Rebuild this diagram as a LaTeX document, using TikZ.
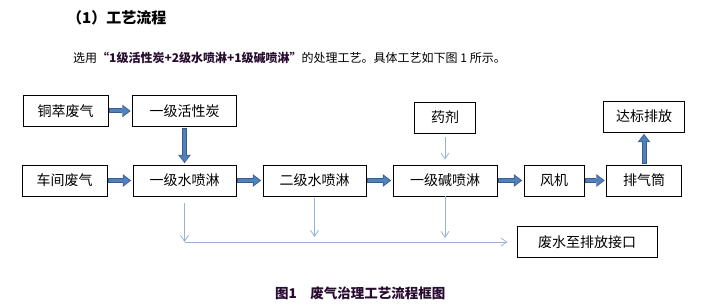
\documentclass[tikz,border=0pt]{standalone}
\usepackage{fontspec}
\setmainfont{Noto Sans CJK SC}
\usepackage{xcolor}
\definecolor{fatfill}{RGB}{79,129,189}
\definecolor{fatedge}{RGB}{56,93,138}
\definecolor{drainblue}{RGB}{149,179,215}
\definecolor{inkdark}{RGB}{40,12,48}
\usetikzlibrary{arrows.meta,calc}

\begin{document}
\begin{tikzpicture}[
        x=1pt, y=-1pt,
        box/.style={draw, line width=0.8pt, minimum height=31pt, inner sep=0pt, font=\fontsize{14}{14}\selectfont},
        fat/.style={draw=fatfill, line width=3pt, shorten <=2pt, shorten >=3pt, -{Triangle[length=6pt,width=9.6pt,line width=0pt]},
            preaction={draw=fatedge, line width=5pt, shorten <=1pt, shorten >=1.5pt, -{Triangle[length=8.2pt,width=12.6pt,line width=0pt]}}},
        drain/.style={draw=drainblue, line width=0.8pt, -{Straight Barb[length=6pt,width=8pt]}},
        head/.style={anchor=west, inner sep=0pt}
    ]
        \useasboundingbox (0,0) rectangle (709,307);

        \node[head, font=\fontsize{15}{15}\selectfont\bfseries] (title) at (67,18) {（1）工艺流程};
        \node[head, font=\fontsize{12}{12}\selectfont] (intro) at (73,58) {选用{\color{inkdark}\bfseries“1级活性炭+2级水喷淋+1级碱喷淋”}的处理工艺。具体工艺如下图 1 所示。};

        \node[box, minimum width=85pt] (copper) at (65.5,111) {铜萃废气};
        \node[box, minimum width=104pt] (carbon) at (184.5,111) {一级活性炭};
        \node[box, minimum width=85pt] (shop) at (64.5,180.5) {车间废气};
        \node[box, minimum width=103pt] (spray1) at (184.5,180.5) {一级水喷淋};
        \node[box, minimum width=103pt] (spray2) at (314.5,180.5) {二级水喷淋};
        \node[box, minimum width=61pt] (agent) at (445,117.5) {药剂};
        \node[box, minimum width=104pt] (alkali) at (445,180.5) {一级碱喷淋};
        \node[box, minimum width=60pt] (fan) at (554,180.5) {风机};
        \node[box, minimum width=75pt] (stack) at (644,180.5) {排气筒};
        \node[box, minimum width=81pt] (emit) at (644,116.5) {达标排放};
        \node[box, minimum width=140pt] (waste) at (587,242) {废水至排放接口};

        \coordinate (d1) at (spray1 |- waste);

        \draw[fat] (copper) -- (carbon);
        \draw[fat] (carbon) -- (spray1);
        \draw[fat] (shop) -- (spray1);
        \draw[fat] (spray1) -- (spray2);
        \draw[fat] (spray2) -- (alkali);
        \draw[fat] (alkali) -- (fan);
        \draw[fat] (fan) -- (stack);
        \draw[fat] (stack) -- (emit);
        \draw[drain, shorten <=4pt, shorten >=5pt] (agent) -- (alkali);
        \draw[drain, shorten <=7pt] (spray1) -- (d1);
        \draw[drain, shorten <=2pt, shorten >=5pt] (spray2) -- (spray2 |- waste);
        \draw[drain, shorten >=4pt] (alkali) -- (alkali |- waste);
        \draw[drain, shorten >=9pt] (d1) -- (waste);

        \node[head, font=\fontsize{13.5}{13.5}\selectfont\bfseries, text=inkdark] (caption) at (275,293) {图1\hspace{1em}废气治理工艺流程框图};
    \end{tikzpicture}
\end{document}
